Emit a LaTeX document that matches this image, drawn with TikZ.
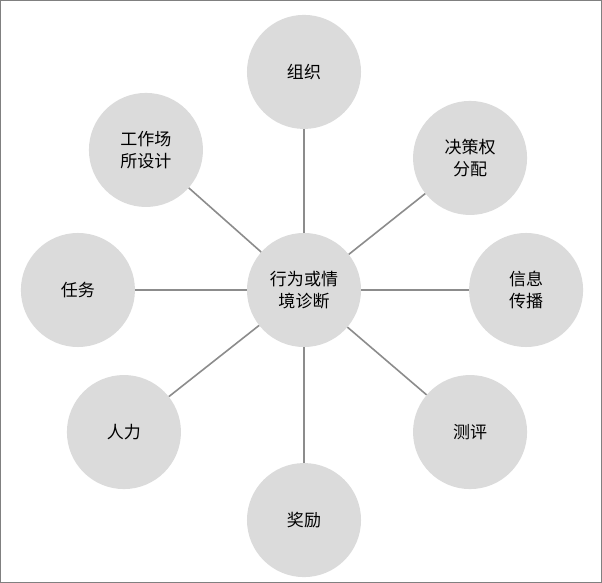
\documentclass[tikz,border=0pt]{standalone}
\usepackage{fontspec}
\setmainfont{Noto Sans CJK SC}
\begin{document}
\begin{tikzpicture}[x=1pt,y=-1pt,
  bub/.style={circle,fill=black!14,minimum size=114pt,inner sep=0pt,align=center,font=\fontsize{17}{22}\selectfont},
  lnk/.style={draw=black!45,line width=1.6pt}]
\draw[black!50,line width=0.8pt,fill=white] (0.5,0.5) rectangle (601.5,582.5);
\node[bub] (c) at (304,290) {行为或情\\境诊断};
\node[bub] (a1) at (304,72) {组织};
\node[bub] (a2) at (470,158) {决策权\\分配};
\node[bub] (a3) at (526,290) {信息\\传播};
\node[bub] (a4) at (470,432) {测评};
\node[bub] (a5) at (304,520) {奖励};
\node[bub] (a6) at (124,432) {人力};
\node[bub] (a7) at (78,290) {任务};
\node[bub] (a8) at (146,150) {工作场\\所设计};
\foreach \i in {1,...,8} \draw[lnk] (c) -- (a\i);
\end{tikzpicture}
\end{document}
